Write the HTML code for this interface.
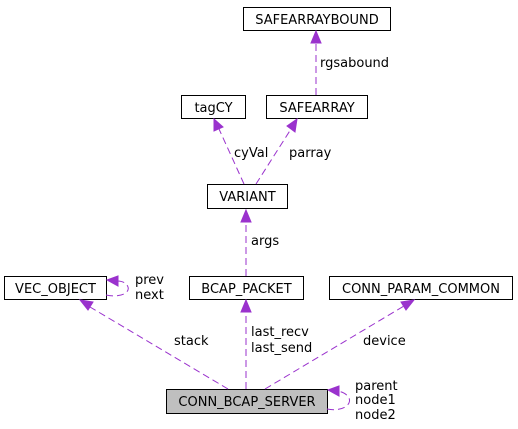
<!DOCTYPE html>
<html><head><meta charset="utf-8"><style>
html,body{margin:0;padding:0;background:#fff;}
svg{display:block;}
text{font-family:"DejaVu Sans","Liberation Sans",sans-serif;font-size:13px;fill:#000;}
.b{fill:#fff;stroke:#000;stroke-width:1;}
.e{stroke:#9a32cd;stroke-width:1;stroke-dasharray:7,4;fill:none;}
.a{fill:#9a32cd;stroke:#9a32cd;}
</style></head><body>
<svg width="518" height="429" viewBox="0 0 518 429">
<rect class="b" x="243.5" y="7.5" width="147" height="23"/><text x="317" y="24" text-anchor="middle">SAFEARRAYBOUND</text>
<rect class="b" x="181.5" y="95.5" width="64" height="23"/><text x="213.5" y="112" text-anchor="middle">tagCY</text>
<rect class="b" x="266.5" y="95.5" width="101" height="23"/><text x="317" y="112" text-anchor="middle">SAFEARRAY</text>
<rect class="b" x="207.5" y="184.5" width="80" height="24"/><text x="247.5" y="201" text-anchor="middle">VARIANT</text>
<rect class="b" x="4.5" y="276.5" width="102" height="23"/><text x="55.5" y="293" text-anchor="middle">VEC_OBJECT</text>
<rect class="b" x="189.5" y="276.5" width="114" height="23"/><text x="246.5" y="293" text-anchor="middle">BCAP_PACKET</text>
<rect class="b" x="329.5" y="276.5" width="183" height="23"/><text x="421" y="293" text-anchor="middle">CONN_PARAM_COMMON</text>
<rect class="b" x="166.5" y="389.5" width="161" height="24" style="fill:#bfbfbf"/><text x="247" y="406" text-anchor="middle">CONN_BCAP_SERVER</text>

<path class="e" d="M316,95 L316,42"/><polygon class="a" points="316,31 311,43 321,43"/>
<text x="320" y="67">rgsabound</text>

<path class="e" d="M244,184 L219,129"/><polygon class="a" points="214,119 214,131 223,127"/>
<text x="234" y="157">cyVal</text>

<path class="e" d="M256,184 L291,129"/><polygon class="a" points="297,119 287,126 295,132"/>
<text x="289" y="157">parray</text>

<path class="e" d="M246,276 L246,221"/><polygon class="a" points="246,210 241,222 251,222"/>
<text x="251" y="245">args</text>

<path class="e" d="M228,389 L90,307"/><polygon class="a" points="80,300 88,310 93,302"/>
<text x="174" y="345">stack</text>

<path class="e" d="M246,389 L246,311"/><polygon class="a" points="246,300 241,312 251,312"/>
<text x="251" y="336">last_recv</text><text x="251" y="352">last_send</text>

<path class="e" d="M265,389 L404,306"/><polygon class="a" points="414,300 401,302 406,310"/>
<text x="363" y="345">device</text>

<path class="e" d="M106,295 C120,298 130,293 128,287 C126,282 121,281 117,281"/><polygon class="a" points="107,280 118,276 118,286"/>
<text x="135" y="284">prev</text><text x="135" y="299">next</text>

<path class="e" d="M327,409 C342,412 352,405 349,398 C346,393 342,392 338,391"/><polygon class="a" points="328,390 339,386 339,396"/>
<text x="355" y="390">parent</text><text x="355" y="404">node1</text><text x="355" y="419">node2</text>
</svg>
</body></html>
